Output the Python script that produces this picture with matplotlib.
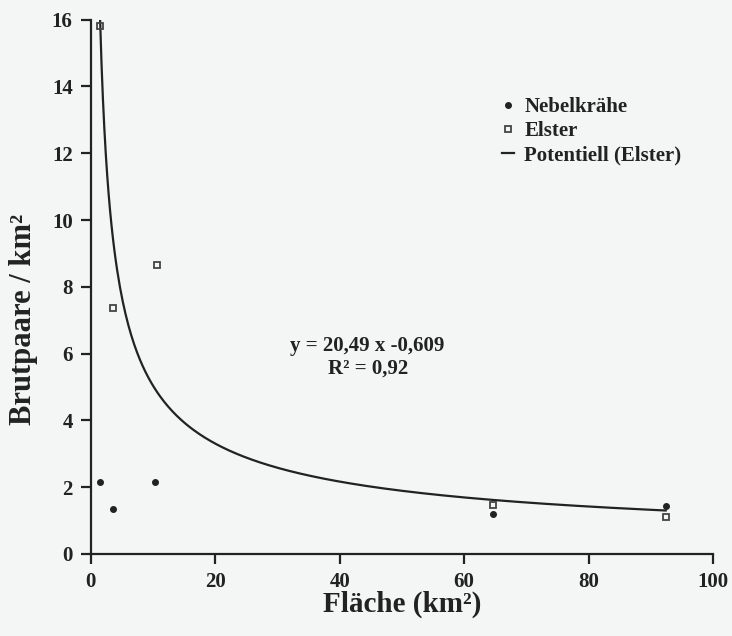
import numpy as np
import matplotlib
matplotlib.use("Agg")
import matplotlib.pyplot as plt

# Nebelkraehe (filled dots)
krahe_x = [1.5, 3.5, 10.4, 64.6, 92.4]
krahe_y = [2.16, 1.35, 2.16, 1.2, 1.44]

# Elster (open squares)
elster_x = [1.5, 3.5, 10.6, 64.6, 92.4]
elster_y = [15.8, 7.37, 8.65, 1.47, 1.1]

# power trend line as printed on the chart: y = 20.49 x^-0.609
coef_a = 20.49
coef_b = -0.609

ink = "#222222"
plt.rcParams["font.family"] = ["Liberation Serif", "DejaVu Serif"]
plt.rcParams["font.weight"] = "bold"

fig = plt.figure(figsize=(7.32, 6.36), dpi=100, facecolor="#f4f6f6")
ax = fig.add_axes([0.124, 0.129, 0.850, 0.840])
ax.set_facecolor("#f4f6f6")

xs = np.linspace(min(elster_x), max(elster_x), 400)
ax.plot(xs, coef_a * xs ** coef_b, color=ink, lw=1.6, label="Potentiell (Elster)", zorder=2)
ax.plot(krahe_x, krahe_y, "o", color=ink, ms=4, label="Nebelkrähe", zorder=3)
ax.plot(elster_x, elster_y, "s", mfc="none", mec="#444444", mew=1.3, ms=5, label="Elster", zorder=3)

ax.set_xlim(0, 100)
ax.set_ylim(0, 16)
ax.set_xticks(range(0, 101, 20))
ax.set_yticks(range(0, 17, 2))
for s in ["top", "right"]:
    ax.spines[s].set_visible(False)
for s in ["left", "bottom"]:
    ax.spines[s].set_linewidth(1.6)
    ax.spines[s].set_color(ink)
ax.tick_params(direction="out", length=7, width=1.6, color=ink, labelsize=15, labelcolor=ink, pad=6)
ax.tick_params(axis="x", pad=6)

ax.set_xlabel("Fläche (km²)", fontsize=21, fontweight="bold", color=ink, labelpad=-1)
ax.set_ylabel("Brutpaare / km²", fontsize=22, fontweight="bold", color=ink)
ax.yaxis.set_label_coords(-0.085, 0.44)

ax.text(0.445, 0.379, "y = 20,49 x -0,609", transform=ax.transAxes, ha="center",
        fontsize=15, fontweight="bold", color=ink)
ax.text(0.445, 0.337, "R² = 0,92", transform=ax.transAxes, ha="center",
        fontsize=15, fontweight="bold", color=ink)

handles, labels = ax.get_legend_handles_labels()
order = [1, 2, 0]
ax.legend([handles[i] for i in order], [labels[i] for i in order], loc="upper left",
          bbox_to_anchor=(0.63, 0.89), frameon=False, fontsize=15, handlelength=0.6,
          handletextpad=0.5, labelspacing=0.2, labelcolor=ink,
          prop={"weight": "bold", "size": 15})

fig.savefig("out.png", dpi=100, facecolor=fig.get_facecolor())
